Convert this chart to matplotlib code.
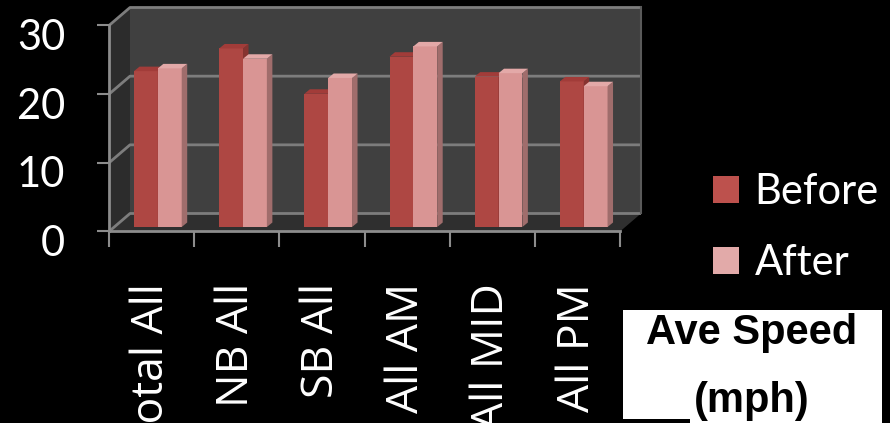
import matplotlib
matplotlib.use("Agg")
import numpy as np
import matplotlib.pyplot as plt
from matplotlib.patches import Polygon, Rectangle, Patch
from matplotlib.transforms import ScaledTranslation

# ---- data -------------------------------------------------------------
categories = ["Total All", "NB All", "SB All", "All AM", "All MID", "All PM"]
before = [22.7, 26.0, 19.4, 24.8, 21.9, 21.2]
after = [23.1, 24.5, 21.7, 26.3, 22.4, 20.5]
series_names = ["Before", "After"]
y_ticks = [0, 10, 20, 30]
badge_text = "Ave Speed\n(mph)"

plt.rcParams["font.family"] = ["Lato", "DejaVu Sans"]

W, H, DPI = 890, 423, 100
fig = plt.figure(figsize=(W / DPI, H / DPI), dpi=DPI, facecolor="black")
ax = fig.add_axes([109 / W, (H - 231.5) / H, 511 / W, 206 / H])
ax.set_facecolor("none")
n = len(categories)
ymax = y_ticks[-1]
ax.set_xlim(0, n)
ax.set_ylim(0, ymax)

# pixel -> data unit helpers for the pseudo-3D depth
px_x = 511 / n
px_y = 206 / ymax


def ddx(p):
    return p / px_x


def ddy(p):
    return p / px_y


DX, DY = ddx(21), ddy(18)      # depth of the chart box
BX, BY = ddx(5), ddy(4.5)      # plane in which the bars stand
TX, TY = ddx(5.5), ddy(4.5)    # thickness of each bar

wall_c = "#404040"
side_wall_c = "#2c2c2c"
floor_c = "#2f2f2f"
grid_c = "#7d7d7d"
axis_c = "#8c8c8c"

# back wall, side wall and floor
ax.add_patch(Polygon([(DX, DY), (n + DX, DY), (n + DX, ymax + DY), (DX, ymax + DY)],
                     closed=True, fc=wall_c, ec="none", clip_on=False, zorder=0))
ax.add_patch(Polygon([(0, 0), (DX, DY), (DX, ymax + DY), (0, ymax)],
                     closed=True, fc=side_wall_c, ec="none", clip_on=False, zorder=0))
ax.add_patch(Polygon([(0, 0), (n, 0), (n + DX, DY), (DX, DY)],
                     closed=True, fc=floor_c, ec="none", clip_on=False, zorder=0))

# gridlines wrapping around the side wall and back wall
for v in y_ticks:
    ax.plot([0, DX, n + DX], [v, v + DY, v + DY], color=grid_c, lw=2,
            clip_on=False, zorder=1, solid_capstyle="butt")
ax.plot([n + DX, n + DX], [DY, ymax + DY], color="#5a5a5a", lw=1.5,
        clip_on=False, zorder=1)

# bars with side and top faces
bar_w = 0.28
gap = 0.235
styles = [
    dict(front="#ae4743", side="#873330", top="#a23c39"),
    dict(front="#d99594", side="#a06d6c", top="#e3a9a8"),
]
for s, (vals, st) in enumerate(zip([before, after], styles)):
    xs = np.arange(n) + BX + gap + s * bar_w
    z = 3 + 2 * s
    ax.bar(xs, vals, width=bar_w, bottom=BY, align="edge", color=st["front"],
           edgecolor="none", zorder=z, clip_on=False)
    for x0, v in zip(xs, vals):
        x1 = x0 + bar_w
        y1 = BY + v
        ax.add_patch(Polygon([(x1, BY), (x1, y1), (x1 + TX, y1 + TY), (x1 + TX, BY + TY)],
                             closed=True, fc=st["side"], ec="none", zorder=z,
                             clip_on=False))
        ax.add_patch(Polygon([(x0, y1), (x1, y1), (x1 + TX, y1 + TY), (x0 + TX, y1 + TY)],
                             closed=True, fc=st["top"], ec="none", zorder=z,
                             clip_on=False))

# front axes
for side in ("top", "right"):
    ax.spines[side].set_visible(False)
for side in ("left", "bottom"):
    ax.spines[side].set_color(axis_c)
    ax.spines[side].set_linewidth(2)
    ax.spines[side].set_zorder(8)

ax.set_yticks(y_ticks)
ax.set_yticklabels([str(t) for t in y_ticks])
ax.tick_params(axis="y", length=8.6, width=1.5, color=axis_c, labelcolor="white",
               labelsize=30, pad=23)
for lbl in ax.get_yticklabels():
    lbl.set_transform(lbl.get_transform() +
                      ScaledTranslation(0, -0.09, fig.dpi_scale_trans))

ax.set_xticks(np.arange(n + 1), minor=True)
ax.set_xticks(np.arange(n) + 0.5)
ax.set_xticklabels(categories, rotation=90, family=["Open Sans", "DejaVu Sans"])
ax.tick_params(axis="x", which="major", length=0, pad=37, labelsize=32,
               labelcolor="white")
ax.tick_params(axis="x", which="minor", length=11.5, width=1.5, color=axis_c)

# legend
handles = [Patch(facecolor="#bd514d", edgecolor="none"),
           Patch(facecolor="#e2aaa9", edgecolor="none")]
fig.legend(handles, series_names, loc="upper left",
           bbox_to_anchor=(713 / W, (H - 173) / H), frameon=False,
           fontsize=30, labelcolor="white", handlelength=0.62, handleheight=0.62,
           handletextpad=0.38, labelspacing=0.8, borderpad=0, borderaxespad=0)

# caption badge
fig.add_artist(Rectangle((623 / W, 0), (882 - 623) / W, (H - 310) / H,
                         transform=fig.transFigure, fc="white", ec="none", zorder=10))
fig.add_artist(Rectangle((623 / W, 0), (690 - 623) / W, 4 / H,
                         transform=fig.transFigure, fc="black", ec="none", zorder=11))
fig.text(752 / W, (H - 313) / H, badge_text, ha="center", va="top",
         family=["Liberation Sans", "DejaVu Sans"], weight="bold", fontsize=30,
         linespacing=1.9, color="black", zorder=12)

fig.savefig("out.png", dpi=DPI, facecolor="black")
